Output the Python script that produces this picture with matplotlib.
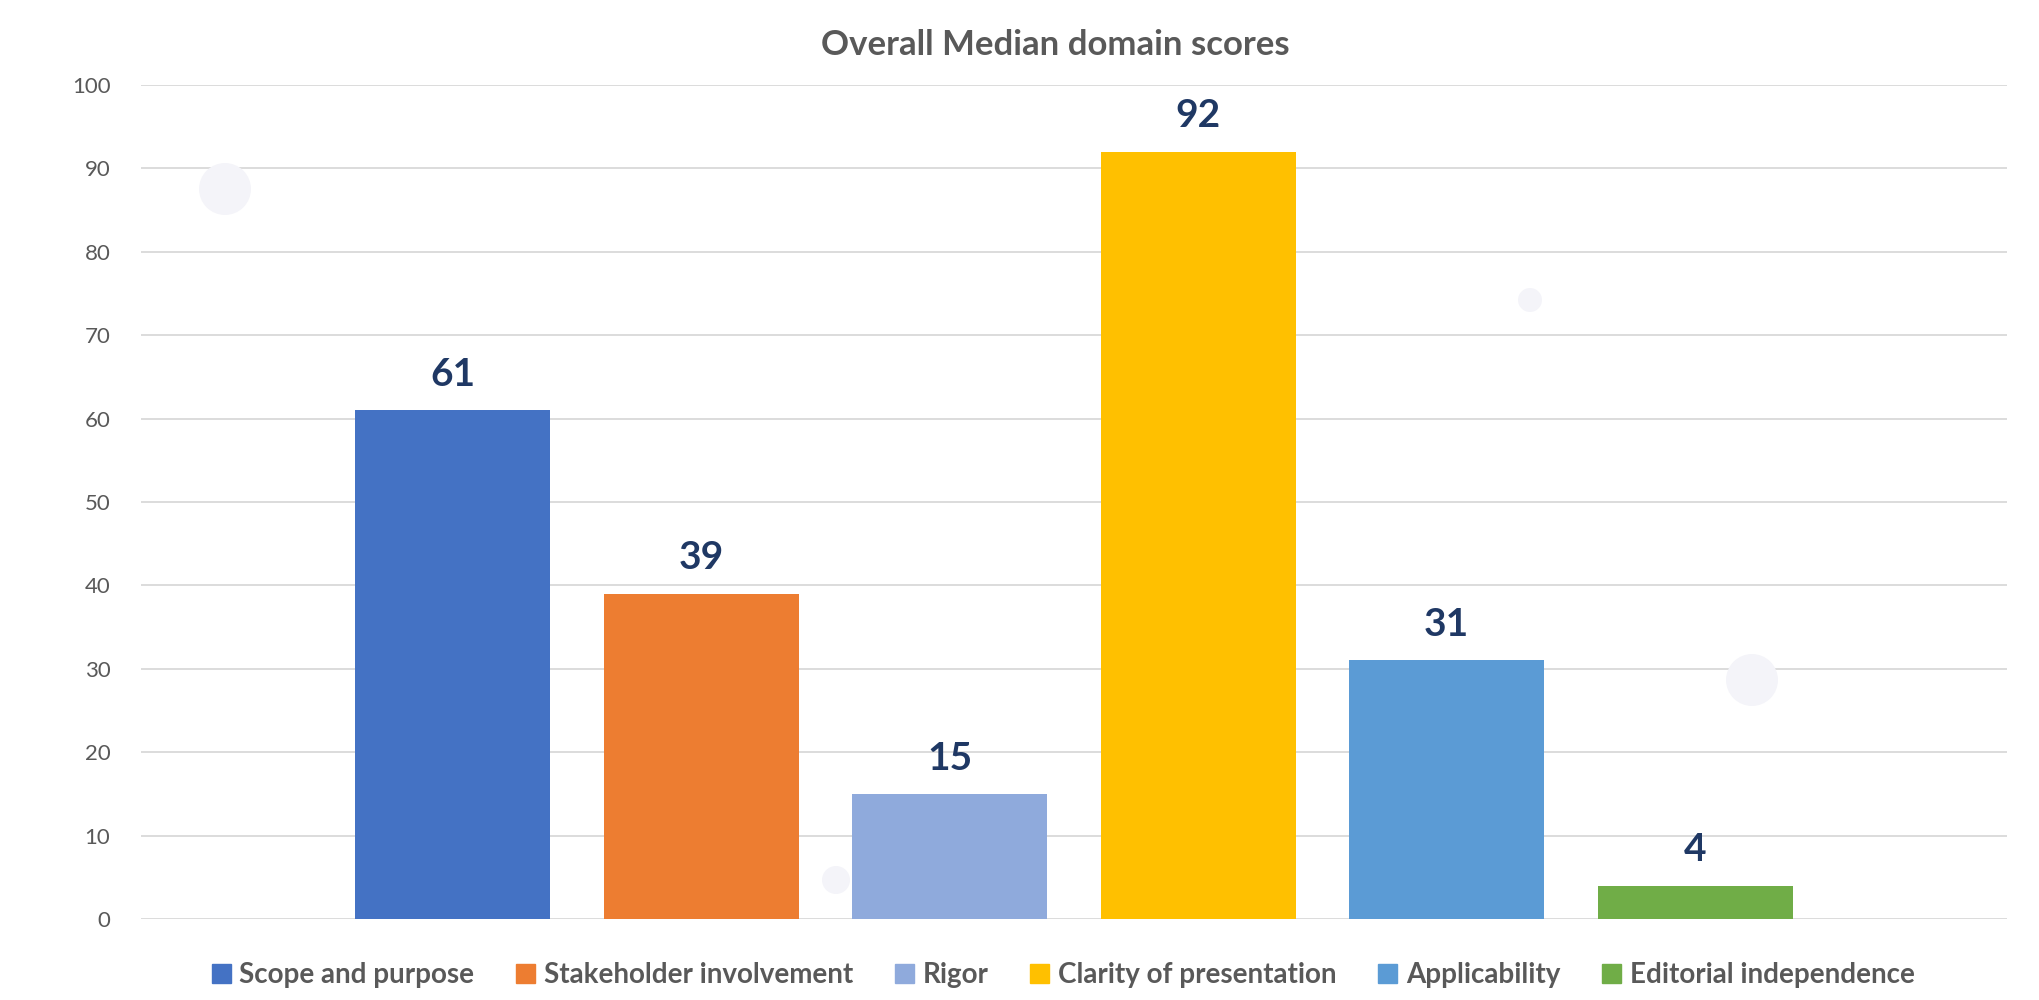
import numpy as np
import matplotlib.pyplot as plt
from matplotlib.patches import Ellipse

plt.rcParams['font.family'] = ['Lato', 'DejaVu Sans']

# data
domains = ['Scope and purpose', 'Stakeholder involvement', 'Rigor',
           'Clarity of presentation', 'Applicability', 'Editorial independence']
scores = [61, 39, 15, 92, 31, 4]
colors = ['#4472C4', '#ED7D31', '#8FAADC', '#FFC000', '#5B9BD5', '#70AD47']
yticks = np.arange(0, 101, 10)

W, H = 2039, 1000
fig = plt.figure(figsize=(W / 100, H / 100), dpi=100)
fig.patch.set_facecolor('white')

# faint decorative background dots
for (cx, cy, r) in [(225, 189, 26), (1530, 300, 12), (1752, 680, 26), (836, 880, 14)]:
    fig.patches.append(Ellipse((cx / W, 1 - cy / H), 2 * r / W, 2 * r / H,
                               transform=fig.transFigure,
                               facecolor='#F4F4F9', edgecolor='none', zorder=0))

ax = fig.add_axes([141 / W, 0.081, (2007 - 141) / W, 0.834])
ax.set_facecolor('none')

x = np.arange(len(domains))
ax.bar(x, scores, width=0.785, color=colors, zorder=3)

for xi, v in zip(x, scores):
    ax.text(xi, v + 2.2, str(v), ha='center', va='bottom', fontsize=28,
            fontweight='bold', color='#1F3864', zorder=4)

ax.set_xlim(-1.256, 6.256)
ax.set_ylim(0, 100)
ax.set_yticks(yticks)
ax.set_xticks([])
ax.yaxis.grid(True, color='#D9D9D9', lw=1.3, zorder=0)
ax.set_axisbelow(True)
for s in ax.spines.values():
    s.set_visible(False)
ax.tick_params(axis='y', length=0, pad=22, labelsize=16, labelcolor='#595959')

fig.text(1055 / W, 1 - 45 / H, 'Overall Median domain scores', ha='center', va='center',
         fontsize=25, fontweight='bold', color='#595959')

handles = [plt.Rectangle((0, 0), 1, 1, color=c) for c in colors]
leg = fig.legend(handles, domains, loc='center', bbox_to_anchor=(1063 / W, 1 - 975 / H),
                 ncol=6, frameon=False, handlelength=0.7, handleheight=0.7,
                 handletextpad=0.3, columnspacing=1.5,
                 prop={'size': 20, 'weight': 'bold'})
for t in leg.get_texts():
    t.set_color('#595959')

fig.savefig('out.png', dpi=100, facecolor='white')
